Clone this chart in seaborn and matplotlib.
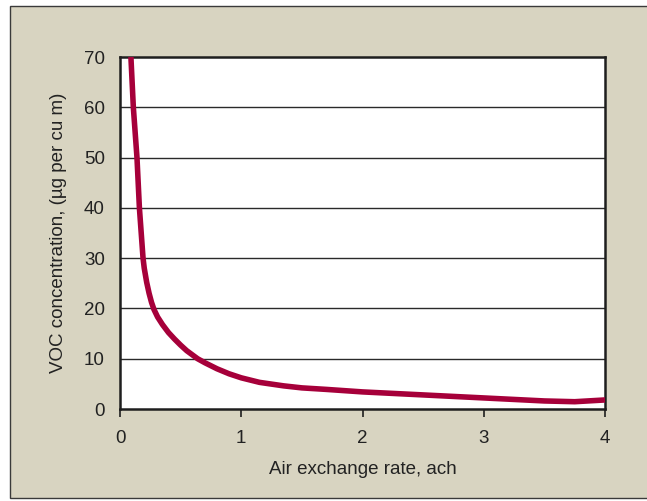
import matplotlib
matplotlib.use("Agg")
import matplotlib.pyplot as plt
import matplotlib.patches as mpatches
import seaborn as sns
import pandas as pd

air_exchange = [0.09, 0.10, 0.11, 0.125, 0.14, 0.15, 0.16, 0.175, 0.19, 0.20, 0.22, 0.24,
                0.26, 0.28, 0.31, 0.35, 0.40, 0.45, 0.50, 0.55, 0.64, 0.70, 0.8, 0.9,
                1.0, 1.15, 1.35, 1.5, 1.7, 2.0, 2.5, 3.0, 3.5, 3.75, 4.0]
voc = [70, 65, 60, 55, 50, 45, 40, 35, 30, 28, 25.2, 23,
       21.2, 19.8, 18.3, 16.8, 15.2, 13.9, 12.7, 11.6, 10, 9.2, 8.0, 7.0,
       6.2, 5.3, 4.6, 4.2, 3.9, 3.4, 2.8, 2.2, 1.6, 1.45, 1.8]
x_ticks = [0, 1, 2, 3, 4]
y_ticks = [0, 10, 20, 30, 40, 50, 60, 70]

df = pd.DataFrame({"x": air_exchange, "y": voc})

sns.set_theme(style="white")
plt.rcParams["font.family"] = ["Liberation Sans", "DejaVu Sans"]

fig = plt.figure(figsize=(6.47, 5.01), dpi=100)
fig.patch.set_facecolor("white")
panel = mpatches.Rectangle((9.5 / 647, 3 / 501), 1.0, 492 / 501, transform=fig.transFigure,
                           facecolor="#d8d4c1", edgecolor="#3a3a3a", linewidth=1.0, zorder=-10)
fig.patches.append(panel)

ax = fig.add_axes([120 / 647, 1 - 409 / 501, 485 / 647, 352 / 501])
ax.set_zorder(5)
ax.set_facecolor("white")

sns.lineplot(data=df, x="x", y="y", ax=ax, color="#a6003a", linewidth=4.0, zorder=3,
             solid_joinstyle="round", solid_capstyle="butt")

ax.set_xlim(0, 4)
ax.set_ylim(0, 70)
ax.set_xticks(x_ticks)
ax.set_yticks(y_ticks)
ax.set_xticklabels([str(t) for t in x_ticks])
ax.set_yticklabels([str(t) for t in y_ticks])
for yv in y_ticks[1:-1]:
    ax.axhline(yv, color="#2a2a2a", linewidth=1.0, zorder=1)

for s in ax.spines.values():
    s.set_color("#1e1e1e")
    s.set_linewidth(1.8)
    s.set_visible(True)

ax.tick_params(axis="x", direction="out", length=6, width=1.2, color="#1e1e1e",
               labelsize=13.5, labelcolor="#222222", pad=9, bottom=True)
ax.tick_params(axis="y", length=0, labelsize=13.5, labelcolor="#222222", pad=11)

ax.set_xlabel("Air exchange rate, ach", fontsize=13.5, color="#222222", labelpad=10)
ax.set_ylabel("VOC concentration, (µg per cu m)", fontsize=13.5, color="#222222", labelpad=12)

fig.savefig("out.png", dpi=100)
